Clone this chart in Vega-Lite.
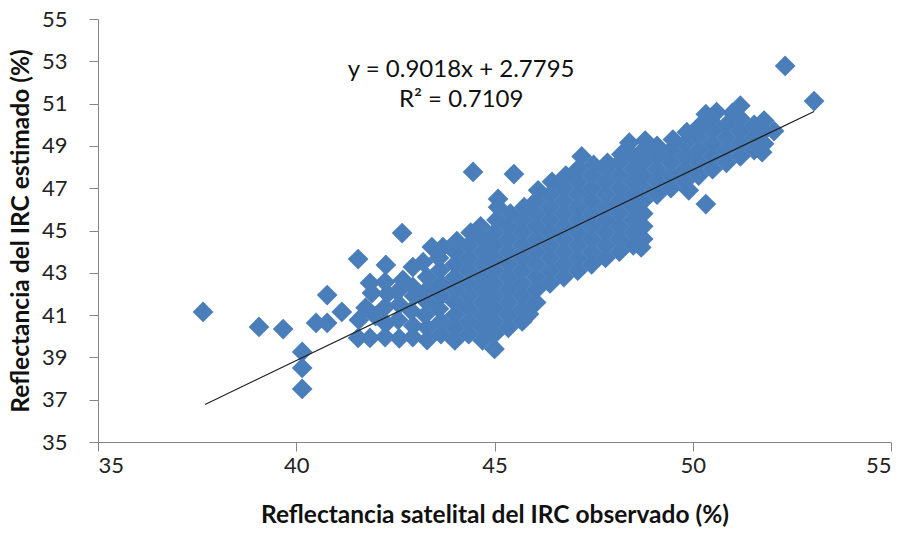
{
  "$schema": "https://vega.github.io/schema/vega-lite/v6.json",
  "autosize": {"type": "none"},
  "width": 793,
  "height": 423,
  "padding": {"left": 98, "top": 19, "right": 17, "bottom": 91},
  "background": "white",
  "config": {
    "view": {"stroke": null},
    "axis": {
      "grid": false,
      "domainColor": "#868686",
      "tickColor": "#868686",
      "tickSize": 9,
      "labelFont": "Lato, Roboto, sans-serif",
      "labelFontSize": 22,
      "labelColor": "#222222",
      "titleFont": "Lato, Roboto, sans-serif",
      "titleFontSize": 24.5,
      "titleFontWeight": "bold",
      "titleColor": "#111111"
    }
  },
  "datasets": {
    "pts": [
      {"x": 37.65, "y": 41.15}, {"x": 39.06, "y": 40.44}, {"x": 39.67, "y": 40.34},
      {"x": 40.15, "y": 39.26}, {"x": 40.15, "y": 38.5}, {"x": 40.15, "y": 37.51},
      {"x": 40.5, "y": 40.63}, {"x": 40.78, "y": 40.63}, {"x": 40.78, "y": 41.95}, {"x": 41.15, "y": 41.15},
      {"x": 41.56, "y": 43.65}, {"x": 41.58, "y": 40.77}, {"x": 41.56, "y": 39.92}, {"x": 41.86, "y": 39.92},
      {"x": 41.86, "y": 42.52}, {"x": 41.91, "y": 42.04}, {"x": 41.75, "y": 41.35}, {"x": 42.0, "y": 40.95},
      {"x": 42.24, "y": 39.96}, {"x": 42.26, "y": 40.6}, {"x": 42.24, "y": 41.38}, {"x": 42.3, "y": 42.0}, {"x": 42.24, "y": 42.56}, {"x": 42.26, "y": 43.37},
      {"x": 42.6, "y": 39.9}, {"x": 42.57, "y": 40.77}, {"x": 42.6, "y": 41.5}, {"x": 42.69, "y": 42.66}, {"x": 42.67, "y": 44.88}, {"x": 42.55, "y": 42.1},
      {"x": 42.94, "y": 39.96}, {"x": 42.95, "y": 40.5}, {"x": 42.9, "y": 41.2}, {"x": 42.97, "y": 41.9}, {"x": 42.94, "y": 42.33}, {"x": 42.94, "y": 43.27},
      {"x": 43.3, "y": 39.82}, {"x": 43.3, "y": 40.4}, {"x": 43.25, "y": 41.0}, {"x": 43.3, "y": 41.6}, {"x": 43.3, "y": 42.2}, {"x": 43.3, "y": 42.8}, {"x": 43.2, "y": 43.5},
      {"x": 43.65, "y": 40.1}, {"x": 43.65, "y": 40.7}, {"x": 43.6, "y": 41.3}, {"x": 43.65, "y": 41.9}, {"x": 43.65, "y": 42.5}, {"x": 43.63, "y": 43.13}, {"x": 43.6, "y": 43.7}, {"x": 43.42, "y": 44.22}, {"x": 43.7, "y": 44.22},
      {"x": 44.0, "y": 39.8}, {"x": 44.0, "y": 40.4}, {"x": 44.0, "y": 41.0}, {"x": 44.0, "y": 41.6}, {"x": 44.0, "y": 42.2}, {"x": 44.0, "y": 42.8}, {"x": 44.0, "y": 43.4}, {"x": 44.0, "y": 44.0}, {"x": 44.05, "y": 44.5},
      {"x": 44.35, "y": 40.1}, {"x": 44.35, "y": 40.7}, {"x": 44.35, "y": 41.3}, {"x": 44.35, "y": 41.9}, {"x": 44.35, "y": 42.5}, {"x": 44.35, "y": 43.1}, {"x": 44.35, "y": 43.7}, {"x": 44.35, "y": 44.3}, {"x": 44.4, "y": 44.9},
      {"x": 44.46, "y": 47.77},
      {"x": 44.7, "y": 39.8}, {"x": 44.7, "y": 40.4}, {"x": 44.7, "y": 41.0}, {"x": 44.7, "y": 41.6}, {"x": 44.7, "y": 42.2}, {"x": 44.7, "y": 42.8}, {"x": 44.7, "y": 43.4}, {"x": 44.7, "y": 44.0}, {"x": 44.7, "y": 44.6}, {"x": 44.65, "y": 45.2},
      {"x": 45.0, "y": 39.4}, {"x": 45.0, "y": 40.1}, {"x": 45.0, "y": 40.7}, {"x": 45.0, "y": 41.3}, {"x": 45.0, "y": 41.9}, {"x": 45.0, "y": 42.5}, {"x": 45.0, "y": 43.1}, {"x": 45.0, "y": 43.7}, {"x": 45.0, "y": 44.3}, {"x": 45.0, "y": 44.9}, {"x": 45.05, "y": 45.5}, {"x": 45.09, "y": 46.1}, {"x": 45.09, "y": 46.49},
      {"x": 45.35, "y": 40.4}, {"x": 45.35, "y": 41.0}, {"x": 45.35, "y": 41.6}, {"x": 45.35, "y": 42.2}, {"x": 45.35, "y": 42.8}, {"x": 45.35, "y": 43.4}, {"x": 45.35, "y": 44.0}, {"x": 45.35, "y": 44.6}, {"x": 45.35, "y": 45.2}, {"x": 45.4, "y": 45.8},
      {"x": 45.49, "y": 47.67},
      {"x": 45.7, "y": 40.7}, {"x": 45.7, "y": 41.3}, {"x": 45.7, "y": 41.9}, {"x": 45.7, "y": 42.5}, {"x": 45.7, "y": 43.1}, {"x": 45.7, "y": 43.7}, {"x": 45.7, "y": 44.3}, {"x": 45.7, "y": 44.9}, {"x": 45.7, "y": 45.5}, {"x": 45.75, "y": 46.1},
      {"x": 45.87, "y": 41.05},
      {"x": 46.05, "y": 41.6}, {"x": 46.05, "y": 42.2}, {"x": 46.05, "y": 42.8}, {"x": 46.05, "y": 43.4}, {"x": 46.05, "y": 44.0}, {"x": 46.05, "y": 44.6}, {"x": 46.05, "y": 45.2}, {"x": 46.05, "y": 45.8}, {"x": 46.05, "y": 46.4}, {"x": 46.1, "y": 46.9},
      {"x": 46.4, "y": 42.5}, {"x": 46.4, "y": 43.1}, {"x": 46.4, "y": 43.7}, {"x": 46.4, "y": 44.3}, {"x": 46.4, "y": 44.9}, {"x": 46.4, "y": 45.5}, {"x": 46.4, "y": 46.1}, {"x": 46.4, "y": 46.7}, {"x": 46.45, "y": 47.3},
      {"x": 46.75, "y": 42.8}, {"x": 46.75, "y": 43.4}, {"x": 46.75, "y": 44.0}, {"x": 46.75, "y": 44.6}, {"x": 46.75, "y": 45.2}, {"x": 46.75, "y": 45.8}, {"x": 46.75, "y": 46.4}, {"x": 46.75, "y": 47.0}, {"x": 46.8, "y": 47.6},
      {"x": 47.1, "y": 43.1}, {"x": 47.1, "y": 43.7}, {"x": 47.1, "y": 44.3}, {"x": 47.1, "y": 44.9}, {"x": 47.1, "y": 45.5}, {"x": 47.1, "y": 46.1}, {"x": 47.1, "y": 46.7}, {"x": 47.1, "y": 47.3}, {"x": 47.1, "y": 47.9}, {"x": 47.2, "y": 48.5},
      {"x": 47.45, "y": 43.4}, {"x": 47.45, "y": 44.0}, {"x": 47.45, "y": 44.6}, {"x": 47.45, "y": 45.2}, {"x": 47.45, "y": 45.8}, {"x": 47.45, "y": 46.4}, {"x": 47.45, "y": 47.0}, {"x": 47.45, "y": 47.6}, {"x": 47.5, "y": 48.1},
      {"x": 47.8, "y": 43.7}, {"x": 47.8, "y": 44.3}, {"x": 47.8, "y": 44.9}, {"x": 47.8, "y": 45.5}, {"x": 47.8, "y": 46.1}, {"x": 47.8, "y": 46.7}, {"x": 47.8, "y": 47.3}, {"x": 47.8, "y": 47.9}, {"x": 47.85, "y": 48.2},
      {"x": 48.15, "y": 44.0}, {"x": 48.15, "y": 44.6}, {"x": 48.15, "y": 45.2}, {"x": 48.15, "y": 45.8}, {"x": 48.15, "y": 46.4}, {"x": 48.15, "y": 47.0}, {"x": 48.15, "y": 47.6}, {"x": 48.15, "y": 48.2}, {"x": 48.2, "y": 48.6},
      {"x": 48.5, "y": 44.3}, {"x": 48.5, "y": 44.9}, {"x": 48.5, "y": 45.5}, {"x": 48.5, "y": 46.1}, {"x": 48.5, "y": 46.7}, {"x": 48.5, "y": 47.3}, {"x": 48.5, "y": 47.9}, {"x": 48.5, "y": 48.5}, {"x": 48.4, "y": 49.15},
      {"x": 48.7, "y": 44.2}, {"x": 48.75, "y": 44.6}, {"x": 48.75, "y": 45.2}, {"x": 48.75, "y": 45.8}, {"x": 48.75, "y": 46.4}, {"x": 48.75, "y": 47.0}, {"x": 48.75, "y": 47.6}, {"x": 48.75, "y": 48.2}, {"x": 48.75, "y": 48.8}, {"x": 48.8, "y": 49.25},
      {"x": 49.1, "y": 46.7}, {"x": 49.1, "y": 47.3}, {"x": 49.1, "y": 47.9}, {"x": 49.1, "y": 48.5}, {"x": 49.1, "y": 49.0},
      {"x": 49.45, "y": 47.0}, {"x": 49.45, "y": 47.6}, {"x": 49.45, "y": 48.2}, {"x": 49.45, "y": 48.8}, {"x": 49.5, "y": 49.3},
      {"x": 49.9, "y": 46.9}, {"x": 49.8, "y": 47.3}, {"x": 49.8, "y": 47.9}, {"x": 49.8, "y": 48.5}, {"x": 49.8, "y": 49.1}, {"x": 49.85, "y": 49.65},
      {"x": 50.15, "y": 47.6}, {"x": 50.15, "y": 48.2}, {"x": 50.15, "y": 48.8}, {"x": 50.15, "y": 49.4}, {"x": 50.15, "y": 49.9},
      {"x": 50.33, "y": 46.25},
      {"x": 50.5, "y": 47.9}, {"x": 50.5, "y": 48.5}, {"x": 50.5, "y": 49.1}, {"x": 50.5, "y": 49.7}, {"x": 50.45, "y": 50.2}, {"x": 50.33, "y": 50.5}, {"x": 50.6, "y": 50.6},
      {"x": 50.85, "y": 48.2}, {"x": 50.85, "y": 48.8}, {"x": 50.85, "y": 49.4}, {"x": 50.85, "y": 50.0}, {"x": 51.0, "y": 50.56},
      {"x": 51.2, "y": 48.5}, {"x": 51.2, "y": 49.1}, {"x": 51.2, "y": 49.7}, {"x": 51.2, "y": 50.3}, {"x": 51.2, "y": 50.9},
      {"x": 51.55, "y": 48.8}, {"x": 51.55, "y": 49.4}, {"x": 51.55, "y": 50.0},
      {"x": 51.75, "y": 48.7}, {"x": 51.8, "y": 49.1}, {"x": 51.8, "y": 49.7}, {"x": 51.8, "y": 50.2},
      {"x": 52.05, "y": 49.7},
      {"x": 52.33, "y": 52.78}, {"x": 53.06, "y": 51.12}
    ],
    "trend": [
      {"x": 37.7, "y": 36.777},
      {"x": 53.06, "y": 50.629}
    ],
    "notes": [
      {"x": 44.16, "y": 52.59, "t": "y = 0.9018x + 2.7795"},
      {"x": 44.16, "y": 51.17, "t": "R² = 0.7109"}
    ]
  },
  "layer": [
    {
      "data": {"name": "pts"},
      "mark": {"type": "point", "shape": "diamond", "filled": true, "size": 430, "color": "#4A7EBB", "opacity": 1},
      "encoding": {
        "x": {
          "field": "x", "type": "quantitative",
          "scale": {"domain": [35, 55], "nice": false, "zero": false},
          "axis": {"values": [35, 40, 45, 50, 55], "title": "Reflectancia satelital del IRC observado (%)", "labelPadding": 4, "titlePadding": 27}
        },
        "y": {
          "field": "y", "type": "quantitative",
          "scale": {"domain": [35, 55], "nice": false, "zero": false},
          "axis": {"values": [35, 37, 39, 41, 43, 45, 47, 49, 51, 53, 55], "title": "Reflectancia del IRC estimado (%)", "labelPadding": 22, "titlePadding": 8}
        }
      }
    },
    {
      "data": {"name": "trend"},
      "mark": {"type": "line", "color": "#222222", "strokeWidth": 1.2},
      "encoding": {
        "x": {"field": "x", "type": "quantitative"},
        "y": {"field": "y", "type": "quantitative"}
      }
    },
    {
      "data": {"name": "notes"},
      "mark": {"type": "text", "font": "Lato, Roboto, sans-serif", "fontSize": 24, "color": "#111111", "align": "center", "baseline": "middle"},
      "encoding": {
        "x": {"field": "x", "type": "quantitative"},
        "y": {"field": "y", "type": "quantitative"},
        "text": {"field": "t"}
      }
    }
  ]
}
